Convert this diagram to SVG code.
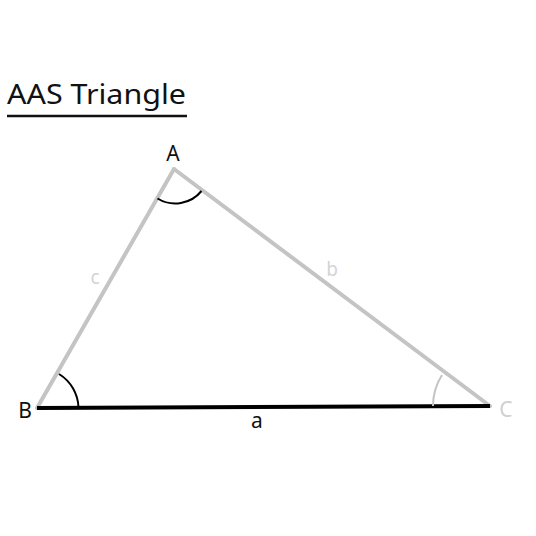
<svg xmlns="http://www.w3.org/2000/svg" width="536" height="536" viewBox="0 0 536 536">
<style>
.side{stroke:#c4c4c4;stroke-width:4;fill:none;stroke-linecap:round}
.base{stroke:#000;stroke-width:4;fill:none}
.arc{stroke:#000;stroke-width:2;fill:none}
.arcg{stroke:#c4c4c4;stroke-width:2;fill:none}
.lbl{font-family:"Noto Sans","Lato",sans-serif;font-size:21px;text-anchor:middle}
.title{font-family:"Noto Sans","Lato",sans-serif;font-size:27px;fill:#111}
</style>
<rect width="536" height="536" fill="#fff"/>
<g id="title">
<text class="title" x="7" y="104" textLength="179" lengthAdjust="spacingAndGlyphs">AAS Triangle</text>
<line x1="7" y1="116" x2="187" y2="116" stroke="#111" stroke-width="2.5"/>
</g>
<g id="connectors">
<line id="side-c" class="side" x1="174" y1="169" x2="37" y2="408"/>
<line id="side-b" class="side" x1="174" y1="169" x2="490" y2="406"/>
<line id="side-a" class="base" x1="37" y1="408" x2="490" y2="406"/>
</g>
<g id="angleA">
<path class="arc" d="M157.5 198.5 A34 34 0 0 0 201.5 191"/>
<text class="lbl" x="173" y="161" fill="#111">A</text>
</g>
<g id="angleB">
<path class="arc" d="M59 374 A41 41 0 0 1 78.5 407.5"/>
<text class="lbl" x="25" y="418" fill="#111">B</text>
</g>
<g id="angleC">
<path class="arcg" d="M433 406 A58 58 0 0 1 442 375"/>
<text class="lbl" x="506" y="417" fill="#d0d0d0">C</text>
</g>
<g id="labels">
<text class="lbl" x="257" y="428" fill="#111">a</text>
<text class="lbl" x="332" y="276" fill="#d4d4d4" style="font-size:19px">b</text>
<text class="lbl" x="95" y="284" fill="#d4d4d4" style="font-size:19px">c</text>
</g>
</svg>
